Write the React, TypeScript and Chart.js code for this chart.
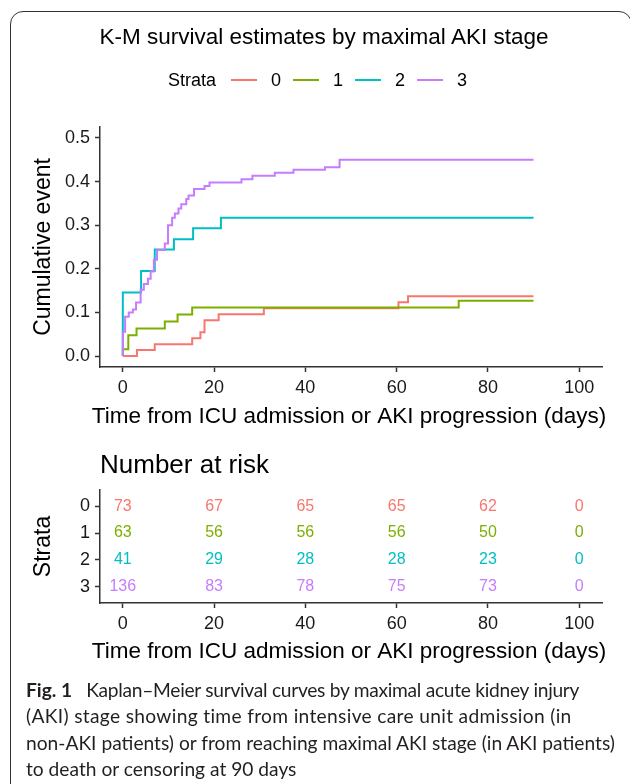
import React, { useEffect, useRef } from 'react';
import { Chart, registerables } from 'chart.js';

Chart.register(...registerables);

const FONT = '"Liberation Sans", Arial, Helvetica, sans-serif';
const CAPTION_FONT = 'Lato, "Liberation Sans", sans-serif';

const STRATA = ['0', '1', '2', '3'];
const COLORS = ['#F8766D', '#7CAE00', '#00BFC4', '#C77CFF'];

// K-M cumulative event curves (step times in days, cumulative event after the step)
const days0 = [0, 3.1, 7.0, 15.2, 17.0, 17.9, 21.0, 30.9, 60.4, 62.5, 90];
const event0 = [0, 0.0137, 0.0274, 0.0411, 0.0548, 0.0822, 0.0959, 0.1096, 0.1233, 0.137, 0.137];
const days1 = [0, 0, 1.2, 3.0, 9.2, 12.0, 15.2, 73.6, 90];
const event1 = [0, 0.0159, 0.0476, 0.0635, 0.0794, 0.0952, 0.1111, 0.127, 0.127];
const days2 = [0, 0, 4.0, 7.0, 11.2, 15.4, 21.5, 90];
const event2 = [0, 0.146, 0.195, 0.244, 0.268, 0.293, 0.317, 0.317];
const days3 = [0, 0, 0.5, 1.3, 2.2, 2.9, 3.9, 4.6, 5.5, 6.1, 6.8, 7.5, 9.2, 9.9, 10.8, 11.4, 12.2, 12.8, 13.9, 14.4, 15.6, 17.9, 19.0, 26.0, 28.4, 33.3, 37.4, 44.3, 47.5, 90];
const event3 = [0, 0.056, 0.09, 0.1, 0.107, 0.123, 0.152, 0.165, 0.177, 0.194, 0.221, 0.243, 0.258, 0.3, 0.317, 0.327, 0.338, 0.348, 0.36, 0.368, 0.383, 0.39, 0.398, 0.405, 0.413, 0.42, 0.427, 0.433, 0.45, 0.45];

// Number at risk table
const riskTimes = [0, 20, 40, 60, 80, 100];
const risk0 = [73, 67, 65, 65, 62, 0];
const risk1 = [63, 56, 56, 56, 50, 0];
const risk2 = [41, 29, 28, 28, 23, 0];
const risk3 = [136, 83, 78, 75, 73, 0];

const xTicks = [0, 20, 40, 60, 80, 100];
const yTicks = [0, 0.1, 0.2, 0.3, 0.4, 0.5];
const strataTicks = [0, 1, 2, 3];

const TITLE = 'K-M survival estimates by maximal AKI stage';
const X_TITLE = 'Time from ICU admission or AKI progression (days)';
const Y_TITLE = 'Cumulative event';
const RISK_TITLE = 'Number at risk';
const CAPTION_LINES = [
  'Kaplan\u2013Meier survival curves by maximal acute kidney injury',
  '(AKI) stage showing time from intensive care unit admission (in',
  'non-AKI patients) or from reaching maximal AKI stage (in AKI patients)',
  'to death or censoring at 90 days',
];
const CAPTION_SPACING = ['-0.28px', '0.32px', '0px', '0px'];

const curveDays = [days0, days1, days2, days3];
const curveEvents = [event0, event1, event2, event3];
const riskRows = [risk0, risk1, risk2, risk3];

const xTitlePlugin = {
  id: 'xTitle',
  afterDraw(chart: any, _args: any, opts: any) {
    const { ctx, chartArea } = chart;
    ctx.save();
    ctx.font = opts.font;
    ctx.fillStyle = opts.color;
    ctx.textAlign = 'center';
    ctx.textBaseline = 'alphabetic';
    ctx.fillText(opts.text, (chartArea.left + chartArea.right) / 2 + (opts.dx || 0), chartArea.bottom + opts.dy);
    ctx.restore();
  },
};

const riskTextPlugin = {
  id: 'riskText',
  afterDatasetsDraw(chart: any, _args: any, opts: any) {
    const { ctx } = chart;
    ctx.save();
    ctx.font = opts.font;
    ctx.textAlign = 'center';
    ctx.textBaseline = 'middle';
    chart.data.datasets.forEach((ds: any, i: number) => {
      const meta = chart.getDatasetMeta(i);
      meta.data.forEach((pt: any, j: number) => {
        ctx.fillStyle = ds.textColor;
        ctx.fillText(String(ds.data[j].n), pt.x, pt.y);
      });
    });
    ctx.restore();
  },
};

function axis(ticksVals: number[], fmt: (v: any) => string) {
  return {
    afterBuildTicks: (s: any) => {
      s.ticks = ticksVals.map((v) => ({ value: v }));
    },
    grid: {
      display: true,
      drawOnChartArea: false,
      drawTicks: true,
      tickLength: 5,
      tickWidth: 1.5,
      tickColor: '#333',
    },
    border: { display: true, color: '#333', width: 1.5 },
    ticks: {
      color: '#1a1a1a',
      font: { family: FONT, size: 18 },
      padding: 5,
      autoSkip: false,
      maxRotation: 0,
      minRotation: 0,
      callback: fmt,
    },
  };
}

export default function App() {
  const topRef = useRef<HTMLCanvasElement>(null);
  const tableRef = useRef<HTMLCanvasElement>(null);

  useEffect(() => {
    const top = new Chart(topRef.current as HTMLCanvasElement, {
      type: 'line',
      data: {
        datasets: STRATA.map((s, i) => ({
          label: s,
          data: curveDays[i].map((d, j) => ({ x: d, y: curveEvents[i][j] })),
          borderColor: COLORS[i],
          backgroundColor: COLORS[i],
          borderWidth: 2,
          pointRadius: 0,
          stepped: true,
          fill: false,
          order: 3 - i,
        })),
      },
      options: {
        animation: false,
        responsive: false,
        events: [],
        layout: { padding: { left: 0, right: 28, top: 127, bottom: 0 } },
        plugins: {
          legend: { display: false },
          title: { display: false },
          tooltip: { enabled: false },
          xTitle: { text: X_TITLE, font: `22.5px ${FONT}`, color: '#000', dy: 56, dx: -2 },
        } as any,
        scales: {
          x: {
            type: 'linear',
            min: -5,
            max: 105,
            afterFit: (s: any) => {
              s.height = 73;
            },
            ...axis(xTicks, (v) => String(v)),
          } as any,
          y: {
            type: 'linear',
            min: -0.025,
            max: 0.525,
            afterFit: (s: any) => {
              s.width = 100;
            },
            ...axis(yTicks, (v) => Number(v).toFixed(1)),
            title: {
              display: true,
              text: Y_TITLE,
              color: '#000',
              font: { family: FONT, size: 23 },
              padding: { top: 30, bottom: 0 },
            },
          } as any,
        },
      },
      plugins: [xTitlePlugin],
    });

    const table = new Chart(tableRef.current as HTMLCanvasElement, {
      type: 'scatter',
      data: {
        datasets: STRATA.map((s, i) => ({
          label: s,
          data: riskTimes.map((t, j) => ({ x: t, y: i, n: riskRows[i][j] })),
          pointRadius: 0,
          textColor: COLORS[i],
        })) as any,
      },
      options: {
        animation: false,
        responsive: false,
        events: [],
        layout: { padding: { left: 0, right: 28, top: 50, bottom: 0 } },
        plugins: {
          legend: { display: false },
          title: { display: false },
          tooltip: { enabled: false },
          xTitle: { text: X_TITLE, font: `22.5px ${FONT}`, color: '#000', dy: 55, dx: -2 },
          riskText: { font: `16px ${FONT}` },
        } as any,
        scales: {
          x: {
            type: 'linear',
            min: -5,
            max: 105,
            afterFit: (s: any) => {
              s.height = 77;
            },
            ...axis(xTicks, (v) => String(v)),
          } as any,
          y: {
            type: 'linear',
            min: -0.6,
            max: 3.6,
            reverse: true,
            afterFit: (s: any) => {
              s.width = 100;
            },
            ...axis(strataTicks, (v) => STRATA[Number(v)]),
            title: {
              display: true,
              text: 'Strata',
              color: '#000',
              font: { family: FONT, size: 23 },
              padding: { top: 30, bottom: 0 },
            },
          } as any,
        },
      },
      plugins: [xTitlePlugin, riskTextPlugin],
    });

    return () => {
      top.destroy();
      table.destroy();
    };
  }, []);

  const baseTop = (baseline: number, size: number) => baseline - 0.8465 * size;

  return (
    <div
      style={{
        position: 'absolute',
        left: 0,
        top: 0,
        width: 630,
        height: 784,
        overflow: 'hidden',
        background: '#fff',
      }}
    >
      <div
        style={{
          position: 'absolute',
          left: 10,
          top: 11,
          width: 622,
          height: 820,
          border: '1.5px solid #333',
          borderRadius: 13,
          boxSizing: 'border-box',
        }}
      />
      <canvas
        ref={topRef}
        width={630}
        height={440}
        style={{ position: 'absolute', left: 0, top: 0, width: 630, height: 440 }}
      />
      <canvas
        ref={tableRef}
        width={630}
        height={240}
        style={{ position: 'absolute', left: 0, top: 440, width: 630, height: 240 }}
      />
      <div
        style={{
          position: 'absolute',
          left: 24,
          width: 600,
          top: baseTop(45, 22.5),
          font: `22.5px ${FONT}`,
          lineHeight: '22.5px',
          textAlign: 'center',
          whiteSpace: 'nowrap',
          color: '#000',
        }}
      >
        {TITLE}
      </div>
      <div
        style={{
          position: 'absolute',
          left: 168,
          top: baseTop(86, 18),
          font: `18px ${FONT}`,
          lineHeight: '18px',
          whiteSpace: 'nowrap',
          color: '#000',
        }}
      >
        Strata
      </div>
      {STRATA.map((s, i) => (
        <React.Fragment key={s}>
          <div
            style={{
              position: 'absolute',
              left: 231 + 62 * i,
              top: 79,
              width: 26,
              height: 2,
              background: COLORS[i],
            }}
          />
          <div
            style={{
              position: 'absolute',
              left: 271 + 62 * i,
              top: baseTop(86, 18),
              font: `18px ${FONT}`,
              lineHeight: '18px',
              whiteSpace: 'nowrap',
              color: '#000',
            }}
          >
            {s}
          </div>
        </React.Fragment>
      ))}
      <div
        style={{
          position: 'absolute',
          left: 100,
          top: baseTop(473, 26),
          font: `26px ${FONT}`,
          lineHeight: '26px',
          whiteSpace: 'nowrap',
          color: '#000',
        }}
      >
        {RISK_TITLE}
      </div>
      <div
        style={{
          position: 'absolute',
          left: 26,
          top: 677,
          font: `19.2px ${CAPTION_FONT}`,
          lineHeight: '26.3px',
          whiteSpace: 'nowrap',
          color: '#231f20',
        }}
      >
        {CAPTION_LINES.map((line, i) => (
          <div key={i} style={{ letterSpacing: CAPTION_SPACING[i] }}>
            {i === 0 ? (
              <>
                <span style={{ fontWeight: 700, letterSpacing: '0px' }}>Fig. 1</span>
                {'\u2002 '}
              </>
            ) : null}
            {line}
          </div>
        ))}
      </div>
    </div>
  );
}
